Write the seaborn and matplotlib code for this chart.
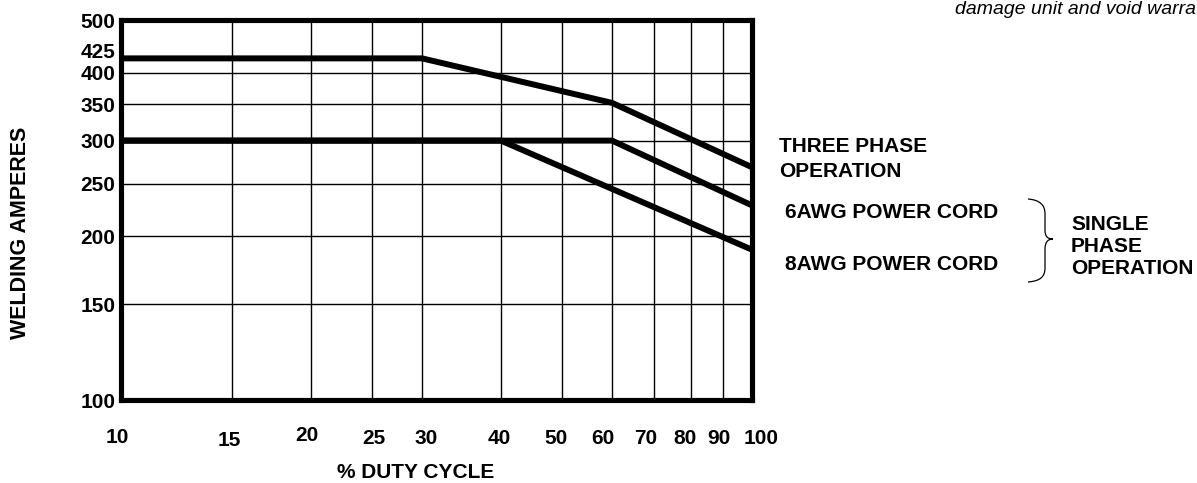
import numpy as np
import pandas as pd
import seaborn as sns
import matplotlib
matplotlib.use("Agg")
import matplotlib.pyplot as plt
import matplotlib.transforms as mtransforms
from matplotlib.path import Path
from matplotlib.patches import PathPatch

# ---- data ----
three_phase_x = [10, 30, 60, 100]
three_phase_y = [425, 425, 352, 268]
awg6_x = [10, 60, 100]
awg6_y = [300, 300, 228]
awg8_x = [10, 40, 100]
awg8_y = [300, 300, 189]

x_ticks = [10, 15, 20, 25, 30, 40, 50, 60, 70, 80, 90, 100]
y_ticks = [100, 150, 200, 250, 300, 350, 400, 425, 500]
y_grid = [150, 200, 250, 300, 350, 400]
x_grid = [15, 20, 25, 30, 40, 50, 60, 70, 80, 90]

series_names = ["THREE PHASE", "6AWG", "8AWG"]

df = pd.concat([
    pd.DataFrame({"duty": three_phase_x, "amps": three_phase_y, "series": series_names[0]}),
    pd.DataFrame({"duty": awg6_x, "amps": awg6_y, "series": series_names[1]}),
    pd.DataFrame({"duty": awg8_x, "amps": awg8_y, "series": series_names[2]}),
])

sns.set_theme(style="white")
plt.rcParams['font.family'] = ['Liberation Sans', 'DejaVu Sans']
plt.rcParams['text.color'] = 'black'
plt.rcParams['axes.labelcolor'] = 'black'
plt.rcParams['xtick.color'] = 'black'
plt.rcParams['ytick.color'] = 'black'

W, H = 1197, 483
FS = 15
fig = plt.figure(figsize=(W / 100, H / 100), dpi=100)
ax = fig.add_axes([121 / W, 1 - 400 / H, (752 - 121) / W, (400 - 20) / H])

ax.set_xscale("log")
ax.set_yscale("log")
ax.set_xlim(10, 100)
ax.set_ylim(100, 500)

for g in x_grid:
    ax.axvline(g, color="black", lw=1.0, zorder=1)
for g in y_grid:
    ax.axhline(g, color="black", lw=1.0, zorder=1)

sns.lineplot(data=df, x="duty", y="amps", hue="series", units="series",
             estimator=None, sort=False,
             palette={n: "black" for n in series_names}, lw=4.3,
             legend=False, ax=ax, zorder=3)
for line in ax.lines:
    line.set_solid_joinstyle("miter")

ax.set_xticks(x_ticks)
ax.set_xticklabels([str(v) for v in x_ticks])
ax.set_yticks(y_ticks)
ax.set_yticklabels([str(v) for v in y_ticks])
ax.xaxis.set_minor_locator(matplotlib.ticker.NullLocator())
ax.yaxis.set_minor_locator(matplotlib.ticker.NullLocator())
ax.tick_params(axis="both", length=0, labelsize=FS, labelcolor="black")
ax.tick_params(axis="x", pad=20)
ax.tick_params(axis="y", pad=4)
for lab in ax.get_xticklabels() + ax.get_yticklabels():
    lab.set_fontweight("bold")
# 425 label sits just above its level, as in the reference
ax.get_yticklabels()[y_ticks.index(425)].set_verticalalignment("baseline")

# hand-set nudges (pixels) of the x tick labels, as placed in the reference
x_nudge = [(-4, 0), (-3, -3), (-4, 2), (2, -1), (4, -1), (-2, -1),
           (-6, -1), (-9, -1), (-9, -1), (-6, -1), (-4, -1), (9, -1)]
for lab, (dx, dy) in zip(ax.get_xticklabels(), x_nudge):
    off = mtransforms.ScaledTranslation(dx / 100, dy / 100, fig.dpi_scale_trans)
    lab.set_transform(lab.get_transform() + off)

for sp in ax.spines.values():
    sp.set_visible(True)
    sp.set_color("black")
    sp.set_linewidth(3.7)
    sp.set_zorder(4)

ax.set_xlabel("")
ax.set_ylabel("")

def fy(y):
    return 1 - y / H

fig.text(21 / W, fy(233), "WELDING AMPERES", fontsize=15.5, fontweight="bold",
         rotation=90, ha="center", va="center")
fig.text(416 / W, fy(472), "% DUTY CYCLE", fontsize=FS, fontweight="bold",
         ha="center", va="center")

fig.text(779 / W, fy(147), "THREE PHASE", fontsize=FS, fontweight="bold", va="center")
fig.text(779 / W, fy(172), "OPERATION", fontsize=FS, fontweight="bold", va="center")
fig.text(785 / W, fy(213), "6AWG POWER CORD", fontsize=FS, fontweight="bold", va="center")
fig.text(785 / W, fy(265), "8AWG POWER CORD", fontsize=FS, fontweight="bold", va="center")
fig.text(1071 / W, fy(224), "SINGLE", fontsize=FS, fontweight="bold", va="center")
fig.text(1071 / W, fy(247), "PHASE", fontsize=FS, fontweight="bold", va="center")
fig.text(1071 / W, fy(269), "OPERATION", fontsize=FS, fontweight="bold", va="center")
fig.text(1196 / W, fy(10), "damage unit and void warra", fontsize=14, style="italic",
         ha="right", va="center")

# brace (pixel coords -> figure coords)
pts = [(1028, 199), (1040, 200), (1045, 205), (1045, 214),
       (1045, 230),
       (1045, 237), (1048, 239), (1053, 239),
       (1048, 239), (1045, 242), (1045, 249),
       (1045, 268),
       (1045, 277), (1040, 281), (1028, 282)]
codes = [Path.MOVETO, Path.CURVE4, Path.CURVE4, Path.CURVE4,
         Path.LINETO,
         Path.CURVE4, Path.CURVE4, Path.CURVE4,
         Path.CURVE4, Path.CURVE4, Path.CURVE4,
         Path.LINETO,
         Path.CURVE4, Path.CURVE4, Path.CURVE4]
verts = [(x / W, fy(y)) for x, y in pts]
fig.patches.append(PathPatch(Path(verts, codes), transform=fig.transFigure,
                             fill=False, lw=0.9, edgecolor="black"))

fig.savefig("out.png", dpi=100, facecolor="white")
